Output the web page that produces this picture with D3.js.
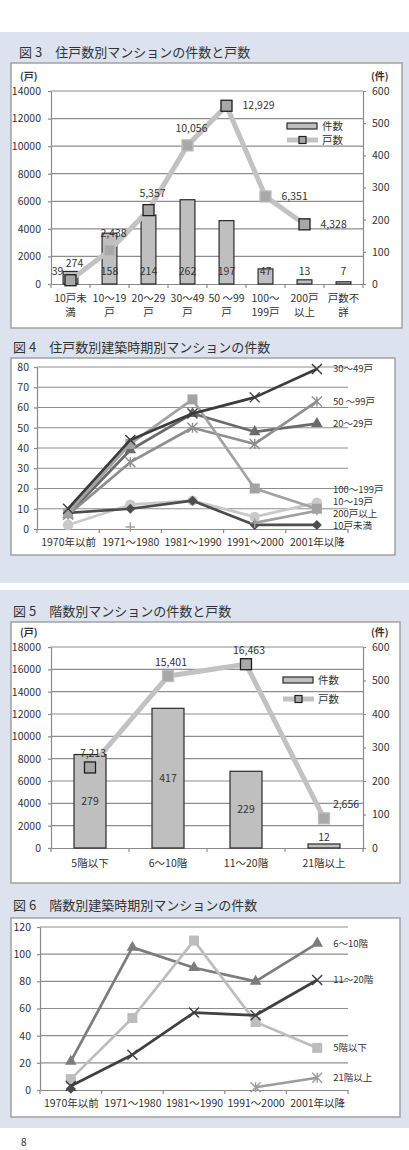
<!DOCTYPE html>
<html>
<head>
<meta charset="utf-8">
<script src="https://cdn.jsdelivr.net/npm/d3@7"></script>
<style>
  html, body { margin: 0; padding: 0; background: #fff; }
  svg { display: block; font-family: "Noto Sans CJK JP", "Noto Sans", sans-serif; }
</style>
</head>
<body>
<svg id="page" width="409" height="1150"></svg>
<script>
// ── Data: 図3 住戸数別 ──────────────────────────────────────────────────────
const fig3Categories = [['10戸未', '満'], ['10〜19', '戸'], ['20〜29', '戸'], ['30〜49', '戸'],
  ['50 〜99', '戸'], ['100〜', '199戸'], ['200戸', '以上'], ['戸数不', '詳']];
const fig3Counts = [39, 158, 214, 262, 197, 47, 13, 7];          // 件数 (右軸)
const fig3Units = [274, 2438, 5357, 10056, 12929, 6351, 4328, null]; // 戸数 (左軸)
const fig3LeftTicks = [0, 2000, 4000, 6000, 8000, 10000, 12000, 14000];
const fig3RightTicks = [0, 100, 200, 300, 400, 500, 600];

// ── Data: 図5 階数別 ────────────────────────────────────────────────────────
const fig5Categories = [['5階以下'], ['6〜10階'], ['11〜20階'], ['21階以上']];
const fig5Counts = [279, 417, 229, 12];
const fig5Units = [7213, 15401, 16463, 2656];
const fig5LeftTicks = [0, 2000, 4000, 6000, 8000, 10000, 12000, 14000, 16000, 18000];
const fig5RightTicks = [0, 100, 200, 300, 400, 500, 600];

// ── Data: 建築時期別 (図4・図6) ─────────────────────────────────────────────
const periods = ['1970年以前', '1971〜1980', '1981〜1990', '1991〜2000', '2001年以降'];

const fig4Names = ['100〜199戸', '10戸未満', '200戸以上', '20〜29戸', '50 〜99戸', '10〜19戸', '30〜49戸'];
const fig4Values = [
  [2, 12, 14, 6, 13],
  [8, 10, 14, 2, 2],
  [null, 1, null, 3, 9],
  [7, 39, 57, 48, 52],
  [7, 33, 50, 42, 63],
  [8, 42, 64, 20, 10],
  [10, 44, 57, 65, 79],
];
const fig4Ticks = [0, 10, 20, 30, 40, 50, 60, 70, 80];

const fig6Names = ['6〜10階', '5階以下', '21階以上', '11〜20階', null];
const fig6Values = [
  [21, 105, 90, 80, 108],
  [8, 53, 110, 50, 31],
  [null, null, null, 2, 9],
  [3, 26, 57, 55, 81],
  [1, null, null, null, null],   // 凡例なしの系列 (1970年以前のみ)
];
const fig6Ticks = [0, 20, 40, 60, 80, 100, 120];

// ── Styles ──────────────────────────────────────────────────────────────────
const PANEL = '#dce3ee';
const GRID = '#8e8e8e';
const AXIS = '#8a8a8a';
const TEXT = '#333';
const BAR_FILL = '#bfbfbf', BAR_STROKE = '#2a2a2a';
const UNIT_LINE = '#c2c2c2';

// Excel-like stroke markers (size = 直径の2乗)
const symbolX = { draw(ctx, size) { const r = Math.sqrt(size) / 2;
  ctx.moveTo(-r, -r); ctx.lineTo(r, r); ctx.moveTo(-r, r); ctx.lineTo(r, -r); } };
const symbolStar = { draw(ctx, size) { const r = Math.sqrt(size) / 2;
  ctx.moveTo(-r, -r); ctx.lineTo(r, r); ctx.moveTo(-r, r); ctx.lineTo(r, -r);
  ctx.moveTo(0, -r); ctx.lineTo(0, r); } };
const symbolPlus = { draw(ctx, size) { const r = Math.sqrt(size) / 2;
  ctx.moveTo(-r, 0); ctx.lineTo(r, 0); ctx.moveTo(0, -r); ctx.lineTo(0, r); } };
const symbolRhomb = { draw(ctx, size) { const r = Math.sqrt(size / 2);
  ctx.moveTo(0, -r); ctx.lineTo(r, 0); ctx.lineTo(0, r); ctx.lineTo(-r, 0); ctx.closePath(); } };

const MARKERS = {
  square: { type: d3.symbolSquare, size: 100, fill: true },
  triangle: { type: d3.symbolTriangle, size: 58, fill: true },
  circle: { type: d3.symbolCircle, size: 85, fill: true },
  diamond: { type: symbolRhomb, size: 50, fill: true },
  x: { type: symbolX, size: 100, fill: false },
  star: { type: symbolStar, size: 100, fill: false },
  plus: { type: symbolPlus, size: 90, fill: false },
};

const fig4Style = {
  '100〜199戸': { color: '#c9c9c9', marker: 'circle' },
  '10戸未満': { color: '#4d4d4d', marker: 'diamond' },
  '200戸以上': { color: '#a0a0a0', marker: 'plus' },
  '20〜29戸': { color: '#6a6a6a', marker: 'triangle' },
  '50 〜99戸': { color: '#8e8e8e', marker: 'star' },
  '10〜19戸': { color: '#a2a2a2', marker: 'square' },
  '30〜49戸': { color: '#3c3c3c', marker: 'x' },
};
const fig6Style = [
  { color: '#7c7c7c', marker: 'triangle' },
  { color: '#bdbdbd', marker: 'square' },
  { color: '#9c9c9c', marker: 'star' },
  { color: '#404040', marker: 'x' },
  { color: '#4a4a4a', marker: 'diamond' },
];

const svg = d3.select('#page');

// 背景パネル
svg.append('rect').attr('x', 0).attr('y', 32).attr('width', 409).attr('height', 551).attr('fill', PANEL);
svg.append('rect').attr('x', 0).attr('y', 590).attr('width', 409).attr('height', 538).attr('fill', PANEL);
// ページ番号 (下端ぎりぎり)
svg.append('text').attr('x', 21).attr('y', 1146).attr('font-size', 10).attr('fill', TEXT).text('8');

drawCombo(svg, {
  title: '図 3　住戸数別マンションの件数と戸数', titleX: 19, titleY: 52,
  box: { x: 11, y: 63, w: 391, h: 265 },
  plot: { left: 51, right: 363, top: 91, bottom: 284 },
  categories: fig3Categories, counts: fig3Counts, units: fig3Units,
  leftTicks: fig3LeftTicks, rightTicks: fig3RightTicks,
  barRatio: 0.38, catLabelDy: 14,
  // 件数ラベルは棒の根元、最初だけマーカーを避けて左へ
  countLabel: (i, top, bottom) => ({ dx: i === 0 ? -13 : 0, y: bottom - 13 }),
  unitLabel: (i) => i >= 4 ? { anchor: 'start', dx: 16, dy: 0 } : { anchor: 'middle', dx: 4, dy: -17 },
  legend: { x: 287, y: 126, gap: 14 },
});

drawCombo(svg, {
  title: '図 5　階数別マンションの件数と戸数', titleX: 13, titleY: 611,
  box: { x: 11, y: 622, w: 389, h: 261 },
  plot: { left: 51, right: 363, top: 647, bottom: 848 },
  categories: fig5Categories, counts: fig5Counts, units: fig5Units,
  leftTicks: fig5LeftTicks, rightTicks: fig5RightTicks,
  barRatio: 0.41, catLabelDy: 15,
  countLabel: (i, top, bottom) => (bottom - top > 16 ? { dx: 0, y: (top + bottom) / 2 } : { dx: 0, y: top - 7 }),
  unitLabel: (i, n) => ({ anchor: 'middle', dx: i === n - 1 ? 22 : 3, dy: -14 }),
  legend: { x: 283, y: 680, gap: 19 },
});

drawLines(svg, {
  title: '図 4　住戸数別建築時期別マンションの件数', titleX: 13, titleY: 347,
  box: { x: 11, y: 358, w: 384, h: 197 },
  plot: { left: 37, right: 348, top: 367, bottom: 529 },
  names: fig4Names, values: fig4Values, ticks: fig4Ticks,
  style: (name) => fig4Style[name], tickPadding: 5,
});

drawLines(svg, {
  title: '図 6　階数別建築時期別マンションの件数', titleX: 13, titleY: 905,
  box: { x: 11, y: 918, w: 389, h: 199 },
  plot: { left: 40, right: 348, top: 927, bottom: 1090 },
  names: fig6Names, values: fig6Values, ticks: fig6Ticks,
  style: (name, i) => fig6Style[i], tickPadding: 6,
});

// ── helpers ────────────────────────────────────────────────────────────────
function drawFrame(g, cfg) {
  g.append('text').attr('x', cfg.titleX).attr('y', cfg.titleY).attr('dy', '0.35em')
    .attr('font-size', 13).attr('fill', TEXT).text(cfg.title);
  g.append('rect').attr('x', cfg.box.x).attr('y', cfg.box.y).attr('width', cfg.box.w).attr('height', cfg.box.h)
    .attr('fill', '#fff').attr('stroke', '#9c9c9c').attr('stroke-width', 1.4);
}

function styleAxis(axisG) {
  axisG.select('.domain').attr('stroke', AXIS).attr('stroke-width', 1.2);
  axisG.selectAll('.tick line').attr('stroke', AXIS).attr('stroke-width', 1.2);
  axisG.selectAll('.tick text').attr('font-size', 10.5).attr('fill', TEXT).attr('font-family', '"Noto Sans CJK JP", sans-serif');
}

function drawGrid(g, ticks, y, plot) {
  g.append('g').selectAll('line').data(ticks.filter(v => v > 0)).join('line')
    .attr('x1', plot.left).attr('x2', plot.right)
    .attr('y1', d => y(d)).attr('y2', d => y(d))
    .attr('stroke', GRID).attr('stroke-width', 1.2);
}

// 区切り目盛り (カテゴリの境界に下向き)
function drawBoundaryTicks(g, count, step, plot) {
  g.append('g').selectAll('line').data(d3.range(count + 1)).join('line')
    .attr('x1', k => plot.left + k * step).attr('x2', k => plot.left + k * step)
    .attr('y1', plot.bottom).attr('y2', plot.bottom + 4)
    .attr('stroke', AXIS).attr('stroke-width', 1.2);
}

function drawMarker(sel, markerName, color, strokeOverride) {
  const m = MARKERS[markerName];
  sel.attr('d', d3.symbol().type(m.type).size(m.size))
    .attr('fill', m.fill ? color : 'none')
    .attr('stroke', m.fill ? (strokeOverride || 'none') : color)
    .attr('stroke-width', m.fill ? 1 : 1.4);
}

function drawCombo(svg, cfg) {
  const { plot } = cfg;
  const g = svg.append('g');
  drawFrame(g, cfg);

  const x = d3.scaleBand().domain(d3.range(cfg.categories.length)).range([plot.left, plot.right]);
  const yLeft = d3.scaleLinear().domain([0, d3.max(cfg.leftTicks)]).range([plot.bottom, plot.top]);
  const yRight = d3.scaleLinear().domain([0, d3.max(cfg.rightTicks)]).range([plot.bottom, plot.top]);
  const cx = i => x(i) + x.bandwidth() / 2;

  drawGrid(g, cfg.leftTicks, yLeft, plot);

  const leftAxis = g.append('g').attr('transform', `translate(${plot.left},0)`)
    .call(d3.axisLeft(yLeft).tickValues(cfg.leftTicks).tickFormat(d3.format('d')).tickSize(3).tickSizeOuter(0).tickPadding(7));
  styleAxis(leftAxis);
  const rightAxis = g.append('g').attr('transform', `translate(${plot.right},0)`)
    .call(d3.axisRight(yRight).tickValues(cfg.rightTicks).tickFormat(d3.format('d')).tickSize(3).tickSizeOuter(0).tickPadding(6));
  styleAxis(rightAxis);
  const bottomAxis = g.append('g').attr('transform', `translate(0,${plot.bottom})`)
    .call(d3.axisBottom(x).tickSize(0).tickSizeOuter(0).tickFormat(''));
  styleAxis(bottomAxis);
  drawBoundaryTicks(g, cfg.categories.length, x.step(), plot);

  // 単位 (一番上の目盛りと重ならないよう少し上に)
  g.append('text').attr('x', plot.left - 31).attr('y', plot.top - 15).attr('dy', '0.35em')
    .attr('font-size', 10).attr('font-weight', 'bold').attr('fill', TEXT).text('(戸)');
  g.append('text').attr('x', plot.right + 8).attr('y', plot.top - 15).attr('dy', '0.35em')
    .attr('font-size', 10).attr('font-weight', 'bold').attr('fill', TEXT).text('(件)');

  // カテゴリ名 (2行まで)
  const catText = g.append('g').selectAll('text').data(cfg.categories).join('text')
    .attr('text-anchor', 'middle').attr('font-size', 10.5).attr('fill', TEXT)
    .attr('x', (d, i) => cx(i)).attr('y', plot.bottom + cfg.catLabelDy).attr('dy', '0.35em');
  catText.selectAll('tspan').data(d => d).join('tspan')
    .attr('x', function () { return d3.select(this.parentNode).attr('x'); })
    .attr('dy', (d, j) => j === 0 ? '0.35em' : '1.4em').text(d => d);

  // 件数の棒
  const barW = x.bandwidth() * cfg.barRatio;
  g.append('g').selectAll('rect').data(cfg.counts).join('rect')
    .attr('x', (d, i) => cx(i) - barW / 2).attr('width', barW)
    .attr('y', d => yRight(d)).attr('height', d => plot.bottom - yRight(d))
    .attr('fill', BAR_FILL).attr('stroke', BAR_STROKE).attr('stroke-width', 1.2);
  g.append('g').selectAll('text').data(cfg.counts).join('text')
    .each(function (d, i) {
      const pos = cfg.countLabel(i, yRight(d), plot.bottom);
      d3.select(this).attr('x', cx(i) + pos.dx).attr('y', pos.y);
    })
    .attr('text-anchor', 'middle').attr('dy', '0.35em').attr('font-size', 10.5).attr('fill', TEXT)
    .text(d => d);

  // 戸数の折れ線
  const line = d3.line().defined(d => d != null).x((d, i) => cx(i)).y(d => yLeft(d));
  g.append('path').datum(cfg.units).attr('d', line)
    .attr('fill', 'none').attr('stroke', UNIT_LINE).attr('stroke-width', 5).attr('stroke-linejoin', 'round');
  const pts = cfg.units.map((v, i) => ({ v, i })).filter(p => p.v != null);
  g.append('g').selectAll('rect').data(pts).join('rect')
    .attr('x', p => cx(p.i) - 5.5).attr('y', p => yLeft(p.v) - 5.5).attr('width', 11).attr('height', 11)
    .attr('fill', '#a8a8a8').attr('stroke', p => p.i % 2 ? '#bdbdbd' : '#1e1e1e').attr('stroke-width', 1.3);
  g.append('g').selectAll('text').data(pts).join('text')
    .each(function (p) {
      const pos = cfg.unitLabel(p.i, pts.length);
      d3.select(this).attr('x', cx(p.i) + pos.dx).attr('y', yLeft(p.v) + pos.dy).attr('text-anchor', pos.anchor);
    })
    .attr('dy', '0.35em').attr('font-size', 10.5).attr('fill', TEXT)
    .text(p => d3.format(',')(p.v));

  // 凡例
  const L = cfg.legend;
  const lg = g.append('g');
  lg.append('rect').attr('x', L.x).attr('y', L.y - 3).attr('width', 30).attr('height', 6)
    .attr('fill', BAR_FILL).attr('stroke', BAR_STROKE).attr('stroke-width', 1.2);
  lg.append('line').attr('x1', L.x).attr('x2', L.x + 31).attr('y1', L.y + L.gap).attr('y2', L.y + L.gap)
    .attr('stroke', UNIT_LINE).attr('stroke-width', 5);
  lg.append('rect').attr('x', L.x + 12).attr('y', L.y + L.gap - 3.5).attr('width', 7).attr('height', 7)
    .attr('fill', '#a8a8a8').attr('stroke', '#1e1e1e').attr('stroke-width', 1.2);
  lg.selectAll('text').data(['件数', '戸数']).join('text')
    .attr('x', L.x + 35).attr('y', (d, i) => L.y + i * L.gap).attr('dy', '0.35em')
    .attr('font-size', 10.5).attr('fill', TEXT).text(d => d);
}

function drawLines(svg, cfg) {
  const { plot } = cfg;
  const g = svg.append('g');
  drawFrame(g, cfg);

  const x = d3.scalePoint().domain(periods).range([plot.left, plot.right]).padding(0.5);
  const y = d3.scaleLinear().domain([0, d3.max(cfg.ticks)]).range([plot.bottom, plot.top]);

  drawGrid(g, cfg.ticks, y, plot);
  const leftAxis = g.append('g').attr('transform', `translate(${plot.left},0)`)
    .call(d3.axisLeft(y).tickValues(cfg.ticks).tickSize(3).tickSizeOuter(0).tickPadding(cfg.tickPadding));
  styleAxis(leftAxis);
  const bottomAxis = g.append('g').attr('transform', `translate(0,${plot.bottom})`)
    .call(d3.axisBottom(x).tickSize(0).tickSizeOuter(0).tickPadding(7));
  styleAxis(bottomAxis);
  bottomAxis.selectAll('.tick text').attr('dy', '0.35em').attr('y', 13);
  drawBoundaryTicks(g, periods.length, x.step(), plot);

  const line = d3.line().defined(d => d != null).x((d, i) => x(periods[i])).y(d => y(d));
  const lastX = x(periods[periods.length - 1]);

  cfg.values.forEach((vals, si) => {
    const name = cfg.names[si];
    const st = cfg.style(name, si);
    const sg = g.append('g');
    sg.append('path').datum(vals).attr('d', line)
      .attr('fill', 'none').attr('stroke', st.color).attr('stroke-width', 2.7).attr('stroke-linejoin', 'round');
    const pts = vals.map((v, i) => ({ v, i })).filter(p => p.v != null);
    sg.selectAll('path.mk').data(pts).join('path').attr('class', 'mk')
      .attr('transform', p => `translate(${x(periods[p.i])},${y(p.v)})`)
      .call(drawMarker, st.marker, st.color);
  });

  // 系列名 (右端)。重なる場合は上下に広げる
  const labels = cfg.names.map((name, si) => {
    const vals = cfg.values[si];
    return name ? { name, target: y(vals[vals.length - 1]) } : null;
  }).filter(Boolean);
  spreadLabels(labels, 12, plot.bottom - 3);
  g.append('g').selectAll('text').data(labels).join('text')
    .attr('x', lastX + 16).attr('y', d => d.pos).attr('dy', '0.35em')
    .attr('font-size', 9.5).attr('fill', TEXT).text(d => d.name);
}

// 近すぎるラベルをクラスタにまとめ、目標位置の平均を中心に等間隔で並べる
function spreadLabels(items, gap, maxY) {
  items.sort((a, b) => a.target - b.target);
  let clusters = items.map(d => ({ items: [d] }));
  const place = c => {
    const mean = d3.mean(c.items, d => d.target);
    c.top = Math.min(mean - (c.items.length - 1) * gap / 2, maxY - (c.items.length - 1) * gap);
  };
  clusters.forEach(place);
  let merged = true;
  while (merged) {
    merged = false;
    for (let i = 0; i < clusters.length - 1; i++) {
      const a = clusters[i], b = clusters[i + 1];
      if (b.top - (a.top + (a.items.length - 1) * gap) < gap) {
        a.items = a.items.concat(b.items);
        place(a);
        clusters.splice(i + 1, 1);
        merged = true;
        break;
      }
    }
  }
  clusters.forEach(c => c.items.forEach((d, k) => { d.pos = c.top + k * gap; }));
}
</script>
</body>
</html>
